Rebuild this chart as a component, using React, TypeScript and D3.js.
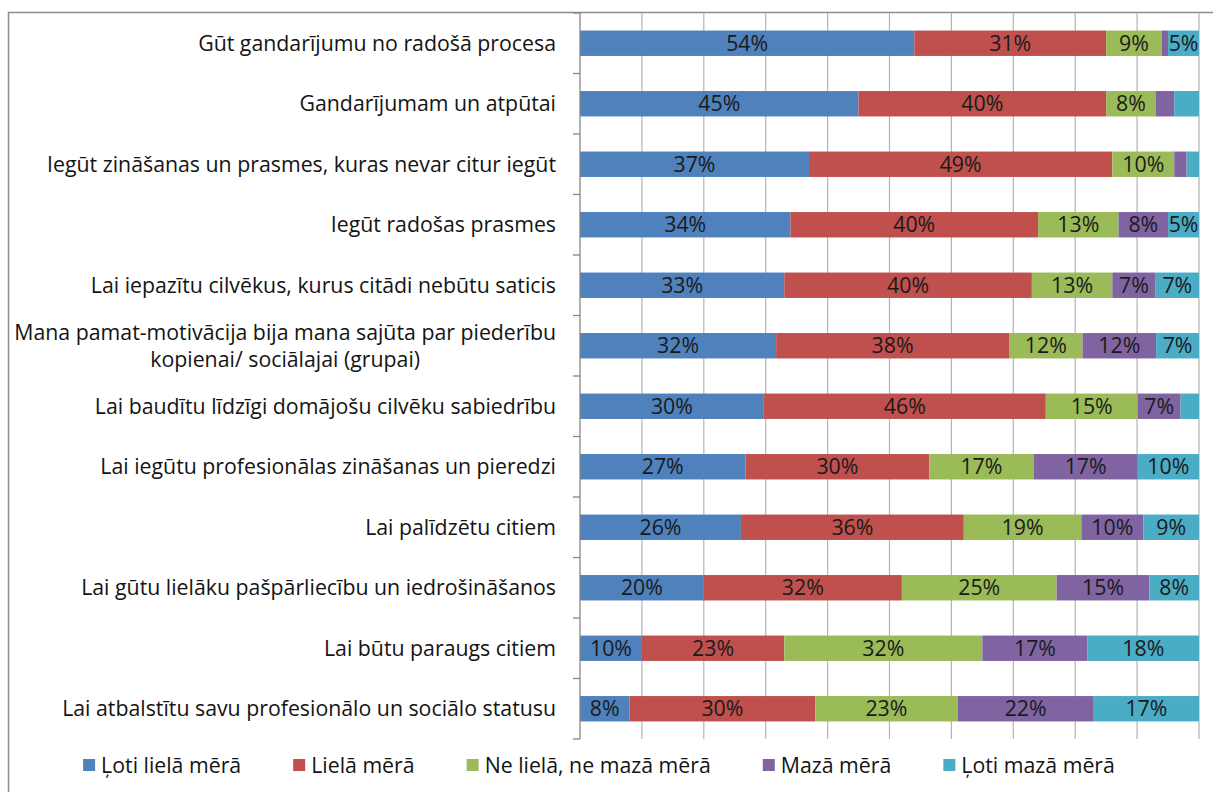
import React, { useEffect, useRef } from "react";
import * as d3 from "d3";

const categories: string[][] = [
  ["Gūt gandarījumu no radošā procesa"],
  ["Gandarījumam un atpūtai"],
  ["Iegūt zināšanas un prasmes, kuras nevar citur iegūt"],
  ["Iegūt radošas prasmes"],
  ["Lai iepazītu cilvēkus, kurus citādi nebūtu saticis"],
  ["Mana pamat-motivācija bija mana sajūta par piederību", "kopienai/ sociālajai (grupai)"],
  ["Lai baudītu līdzīgi domājošu cilvēku sabiedrību"],
  ["Lai iegūtu profesionālas zināšanas un pieredzi"],
  ["Lai palīdzētu citiem"],
  ["Lai gūtu lielāku pašpārliecību un iedrošināšanos"],
  ["Lai būtu paraugs citiem"],
  ["Lai atbalstītu savu profesionālo un sociālo statusu"],
];

const seriesNames = [
  "Ļoti lielā mērā",
  "Lielā mērā",
  "Ne lielā, ne mazā mērā",
  "Mazā mērā",
  "Ļoti mazā mērā",
];

const veryLarge = [54, 45, 37, 34, 33, 32, 30, 27, 26, 20, 10, 8];
const large = [31, 40, 49, 40, 40, 38, 46, 30, 36, 32, 23, 30];
const neither = [9, 8, 10, 13, 13, 12, 15, 17, 19, 25, 32, 23];
const small = [1, 3, 2, 8, 7, 12, 7, 17, 10, 15, 17, 22];
const verySmall = [5, 4, 2, 5, 7, 7, 3, 10, 9, 8, 18, 17];

const xTicks = [0, 10, 20, 30, 40, 50, 60, 70, 80, 90, 100];

const colors = ["#4F81BD", "#C0504D", "#9BBB59", "#8064A2", "#4BACC6"];

const FONT = "'Open Sans', sans-serif";
const FS = 21.3;

export default function App() {
  const ref = useRef<SVGSVGElement | null>(null);

  useEffect(() => {
    const svg = d3.select(ref.current);
    svg.selectAll("*").remove();

    const W = 1213;
    const H = 792;
    const left = 580;
    const right = 1199;
    const top = 13;
    const bottom = 739;
    const labelRight = 556;

    const seriesValues = [veryLarge, large, neither, small, verySmall];
    const rows = categories.map((c, i) => {
      const vals = seriesValues.map((s) => s[i]);
      const total = d3.sum(vals);
      const row: any = { idx: i };
      seriesValues.forEach((s, k) => {
        row["s" + k] = vals[k];
        row["n" + k] = (vals[k] / total) * 100;
      });
      return row;
    });

    const keys = seriesNames.map((_, k) => "n" + k);
    const stacked = d3.stack<any>().keys(keys)(rows);

    const x = d3.scaleLinear().domain([0, 100]).range([left, right]);
    const y = d3
      .scaleBand<number>()
      .domain(rows.map((r) => r.idx))
      .range([top, bottom])
      .paddingInner(0.58)
      .paddingOuter(0.29);

    // frame
    svg
      .append("rect")
      .attr("x", 8.5)
      .attr("y", 12.5)
      .attr("width", W + 20)
      .attr("height", H + 20)
      .attr("fill", "none")
      .attr("stroke", "#8c8c8c")
      .attr("stroke-width", 1.5);

    // gridlines
    svg
      .append("g")
      .selectAll("line")
      .data(xTicks.filter((t) => t > 0))
      .join("line")
      .attr("x1", (d) => x(d))
      .attr("x2", (d) => x(d))
      .attr("y1", top)
      .attr("y2", bottom)
      .attr("stroke", "#b4b4b4")
      .attr("stroke-width", 1.2);

    // bars
    const g = svg.append("g");
    stacked.forEach((layer, k) => {
      g.append("g")
        .selectAll("rect")
        .data(layer)
        .join("rect")
        .attr("x", (d) => x(d[0]))
        .attr("width", (d) => x(d[1]) - x(d[0]))
        .attr("y", (d) => y(d.data.idx)!)
        .attr("height", y.bandwidth())
        .attr("fill", colors[k]);
    });

    // data labels
    stacked.forEach((layer, k) => {
      g.append("g")
        .selectAll("text")
        .data(layer.filter((d) => d.data["s" + k] >= 5))
        .join("text")
        .attr("x", (d) => (x(d[0]) + x(d[1])) / 2)
        .attr("y", (d) => y(d.data.idx)! + y.bandwidth() / 2)
        .attr("dy", "0.36em")
        .attr("text-anchor", "middle")
        .attr("font-family", FONT)
        .attr("font-size", FS)
        .attr("fill", "#1a1a1a")
        .text((d) => d.data["s" + k] + "%");
    });

    // y axis
    const ax = svg.append("g");
    ax.append("line")
      .attr("x1", left)
      .attr("x2", left)
      .attr("y1", top)
      .attr("y2", bottom)
      .attr("stroke", "#868686")
      .attr("stroke-width", 1.3);
    const bounds = d3.range(categories.length + 1).map((i) => top + i * y.step());
    ax.selectAll("line.tick")
      .data(bounds)
      .join("line")
      .attr("class", "tick")
      .attr("x1", left - 7)
      .attr("x2", left)
      .attr("y1", (d) => d)
      .attr("y2", (d) => d)
      .attr("stroke", "#868686")
      .attr("stroke-width", 1.3);

    // category labels
    categories.forEach((lines, i) => {
      const cy = y(i)! + y.bandwidth() / 2;
      const lh = 27;
      const t = svg
        .append("text")
        .attr("font-family", FONT)
        .attr("font-size", FS)
        .attr("fill", "#141414")
        .attr("text-anchor", "middle");
      const spans = lines.map((ln, j) =>
        t
          .append("tspan")
          .attr("y", cy + (j - (lines.length - 1) / 2) * lh)
          .attr("dy", "0.36em")
          .text(ln)
      );
      const widths = spans.map((s) => (s.node() as SVGTSpanElement).getComputedTextLength());
      const maxW = d3.max(widths) || 0;
      spans.forEach((s) => s.attr("x", labelRight - maxW / 2));
    });

    // legend
    const legY = 765;
    const sq = 12;
    const gapSqText = 6;
    const gapItems = 52;
    const lg = svg.append("g");
    const items = seriesNames.map((name, k) => {
      const it = lg.append("g");
      it.append("rect")
        .attr("width", sq)
        .attr("height", sq)
        .attr("y", legY - sq / 2)
        .attr("fill", colors[k]);
      const tx = it
        .append("text")
        .attr("x", sq + gapSqText)
        .attr("y", legY)
        .attr("dy", "0.36em")
        .attr("font-family", FONT)
        .attr("font-size", FS)
        .attr("fill", "#141414")
        .text(name);
      const w = sq + gapSqText + (tx.node() as SVGTextElement).getComputedTextLength();
      return { it, w };
    });
    const totalW = d3.sum(items, (d) => d.w) + gapItems * (items.length - 1);
    let cx = 599 - totalW / 2;
    items.forEach(({ it, w }) => {
      it.attr("transform", `translate(${cx},0)`);
      cx += w + gapItems;
    });
  }, []);

  return (
    <svg
      ref={ref}
      width={1213}
      height={792}
      style={{ position: "absolute", left: 0, top: 0, background: "#fff" }}
    />
  );
}
